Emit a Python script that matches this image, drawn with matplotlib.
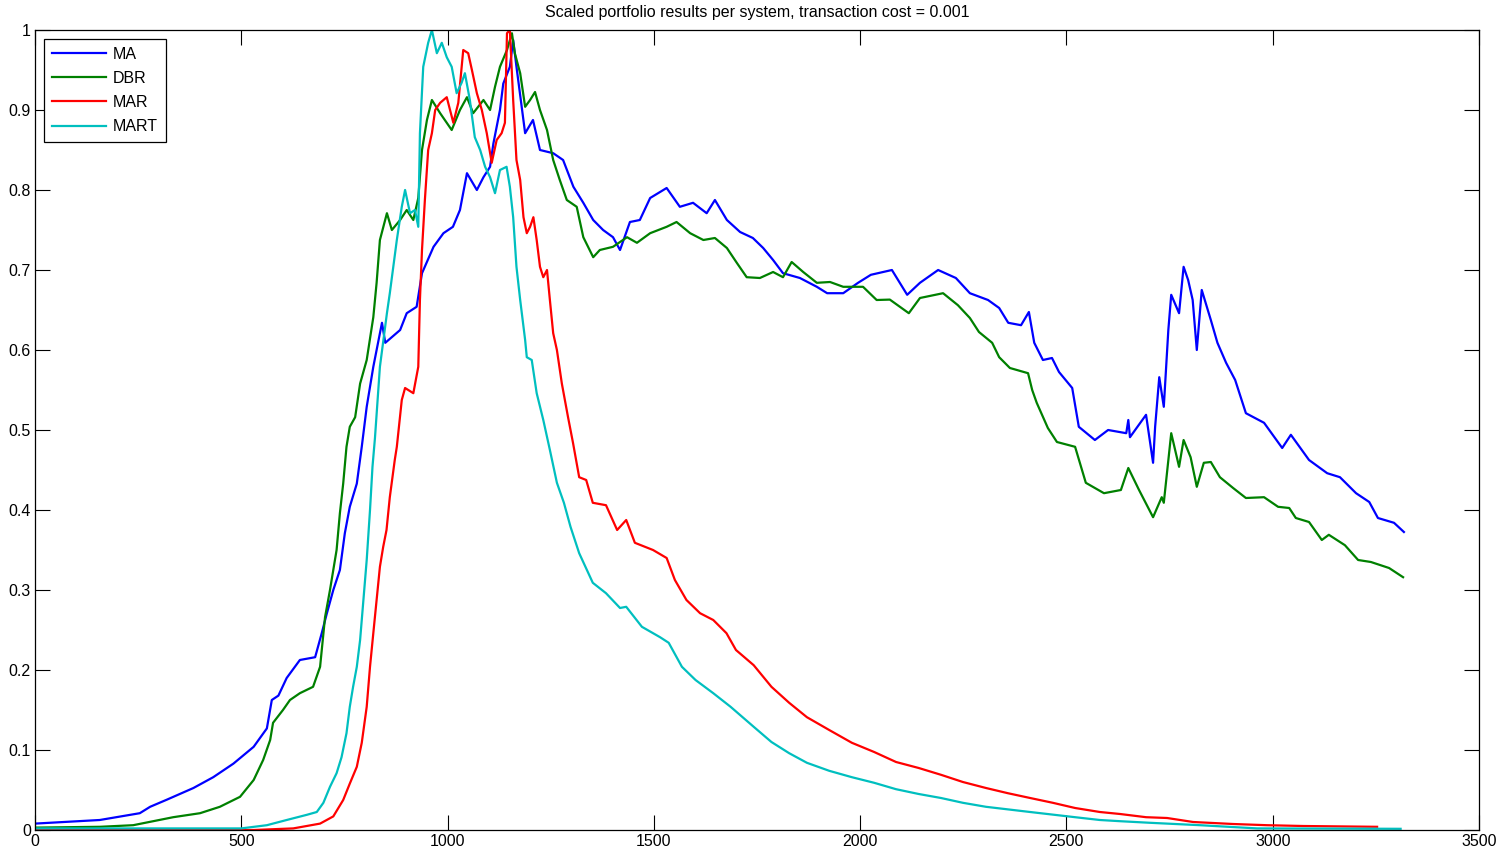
import matplotlib
matplotlib.use('Agg')
import matplotlib.pyplot as plt

plt.rcParams['font.family'] = ['Liberation Sans', 'DejaVu Sans']

# scaled portfolio value per system (x = trading day)
ma_x = [0, 157, 254, 279, 320, 384, 432, 481, 530, 562, 574, 590, 610, 642, 679, 695, 707, 723,
        739, 751, 763, 780, 792, 804, 820, 841, 849, 885, 901, 925, 938, 966, 990, 1013, 1030,
        1047, 1071, 1087, 1103, 1111, 1127, 1135, 1151, 1159, 1167, 1188, 1207, 1224, 1256,
        1280, 1305, 1329, 1353, 1377, 1401, 1418, 1442, 1466, 1491, 1531, 1563, 1595, 1628,
        1648, 1677, 1709, 1740, 1765, 1789, 1813, 1854, 1895, 1920, 1959, 1995, 2026, 2077,
        2114, 2145, 2189, 2232, 2266, 2310, 2337, 2359, 2390, 2409, 2422, 2443, 2465, 2482,
        2514, 2530, 2569, 2601, 2645, 2650, 2654, 2693, 2710, 2715, 2725, 2736, 2747, 2754,
        2773, 2784, 2795, 2806, 2816, 2828, 2850, 2866, 2887, 2909, 2935, 2979, 3023, 3044,
        3088, 3132, 3163, 3202, 3234, 3255, 3294, 3318]
ma_y = [0.008, 0.0125, 0.021, 0.029, 0.038, 0.0525, 0.066, 0.083, 0.104, 0.127, 0.1625, 0.168,
        0.19, 0.2125, 0.216, 0.246, 0.27, 0.30, 0.325, 0.371, 0.404, 0.433, 0.479, 0.529, 0.579,
        0.634, 0.609, 0.625, 0.646, 0.654, 0.696, 0.729, 0.746, 0.754, 0.775, 0.821, 0.80,
        0.816, 0.829, 0.858, 0.90, 0.933, 0.954, 0.9875, 0.954, 0.871, 0.8875, 0.85, 0.846,
        0.8375, 0.804, 0.784, 0.7625, 0.75, 0.741, 0.725, 0.76, 0.7625, 0.79, 0.8025, 0.779,
        0.784, 0.771, 0.7875, 0.7625, 0.7475, 0.74, 0.7275, 0.7125, 0.696, 0.69, 0.679, 0.671,
        0.671, 0.684, 0.694, 0.70, 0.669, 0.684, 0.70, 0.69, 0.671, 0.6625, 0.6525, 0.634,
        0.631, 0.6475, 0.609, 0.5875, 0.59, 0.5725, 0.5525, 0.504, 0.4875, 0.50, 0.496, 0.5125,
        0.491, 0.519, 0.459, 0.504, 0.566, 0.529, 0.625, 0.669, 0.646, 0.704, 0.6875, 0.6625,
        0.60, 0.675, 0.6375, 0.609, 0.584, 0.5625, 0.521, 0.509, 0.4775, 0.494, 0.4625, 0.446,
        0.441, 0.421, 0.41, 0.39, 0.384, 0.3725]

dbr_x = [0, 157, 238, 286, 335, 400, 448, 497, 530, 553, 570, 577, 601, 618, 642, 674, 691, 703,
         715, 731, 739, 747, 755, 763, 776, 788, 804, 820, 828, 836, 853, 865, 885, 901, 917,
         929, 938, 950, 962, 982, 998, 1010, 1030, 1047, 1062, 1087, 1103, 1115, 1127, 1144,
         1156, 1163, 1176, 1188, 1200, 1212, 1224, 1241, 1256, 1272, 1289, 1313, 1329, 1353,
         1369, 1401, 1435, 1459, 1491, 1531, 1555, 1588, 1620, 1648, 1677, 1701, 1725, 1757,
         1789, 1813, 1834, 1862, 1895, 1927, 1959, 2007, 2040, 2072, 2118, 2145, 2201, 2237,
         2266, 2288, 2320, 2337, 2363, 2407, 2417, 2428, 2455, 2477, 2521, 2547, 2591, 2632,
         2650, 2676, 2710, 2731, 2736, 2754, 2773, 2784, 2801, 2816, 2833, 2850, 2872, 2904,
         2935, 2979, 3013, 3040, 3056, 3088, 3119, 3136, 3175, 3207, 3238, 3282, 3316]
dbr_y = [0.003, 0.004, 0.006, 0.011, 0.016, 0.021, 0.029, 0.0415, 0.0625, 0.0875, 0.1125, 0.134,
         0.15, 0.1625, 0.171, 0.179, 0.204, 0.266, 0.30, 0.35, 0.396, 0.433, 0.479, 0.504, 0.516,
         0.558, 0.5875, 0.641, 0.684, 0.7375, 0.771, 0.75, 0.7625, 0.775, 0.7625, 0.79, 0.85,
         0.8875, 0.9125, 0.896, 0.884, 0.875, 0.90, 0.916, 0.896, 0.9125, 0.90, 0.929, 0.954,
         0.975, 0.996, 0.971, 0.946, 0.904, 0.9125, 0.9225, 0.90, 0.875, 0.8375, 0.8125, 0.7875,
         0.779, 0.741, 0.716, 0.725, 0.729, 0.741, 0.734, 0.746, 0.754, 0.76, 0.746, 0.7375,
         0.74, 0.7275, 0.709, 0.691, 0.69, 0.6975, 0.691, 0.71, 0.6975, 0.684, 0.685, 0.679,
         0.679, 0.6625, 0.663, 0.646, 0.665, 0.671, 0.656, 0.64, 0.6225, 0.609, 0.591, 0.5775,
         0.571, 0.55, 0.534, 0.5025, 0.485, 0.479, 0.434, 0.421, 0.425, 0.4525, 0.425, 0.391,
         0.416, 0.409, 0.496, 0.454, 0.4875, 0.466, 0.429, 0.459, 0.46, 0.441, 0.4275, 0.415,
         0.416, 0.404, 0.4025, 0.39, 0.385, 0.3625, 0.369, 0.356, 0.3375, 0.335, 0.3275, 0.316]

mar_x = [0, 530, 626, 691, 723, 747, 763, 780, 792, 804, 812, 820, 828, 836, 844, 852, 860, 872,
         877, 889, 897, 917, 929, 933, 938, 945, 953, 962, 970, 982, 998, 1014, 1026, 1038,
         1050, 1059, 1071, 1083, 1095, 1107, 1119, 1131, 1139, 1144, 1151, 1159, 1167, 1176,
         1184, 1192, 1200, 1208, 1216, 1224, 1232, 1241, 1248, 1256, 1265, 1277, 1292, 1304,
         1319, 1336, 1352, 1384, 1411, 1433, 1454, 1498, 1531, 1551, 1579, 1612, 1644, 1676,
         1699, 1742, 1785, 1828, 1871, 1925, 1980, 2034, 2087, 2142, 2196, 2249, 2305, 2358,
         2412, 2467, 2521, 2581, 2630, 2693, 2744, 2807, 2904, 2986, 3074, 3253]
mar_y = [0.0, 0.0, 0.002, 0.008, 0.017, 0.0375, 0.058, 0.079, 0.109, 0.154, 0.204, 0.246, 0.2875,
         0.329, 0.354, 0.375, 0.416, 0.4625, 0.479, 0.5375, 0.5525, 0.546, 0.579, 0.6625, 0.725,
         0.7875, 0.85, 0.871, 0.90, 0.909, 0.916, 0.884, 0.909, 0.975, 0.971, 0.95, 0.921, 0.90,
         0.871, 0.834, 0.8625, 0.871, 0.884, 0.996, 1.0, 0.9125, 0.8375, 0.8125, 0.766, 0.746,
         0.754, 0.766, 0.7375, 0.704, 0.691, 0.70, 0.6625, 0.621, 0.60, 0.558, 0.516, 0.484,
         0.441, 0.4375, 0.409, 0.406, 0.375, 0.3875, 0.359, 0.35, 0.34, 0.3125, 0.2875, 0.271,
         0.2625, 0.246, 0.225, 0.206, 0.179, 0.159, 0.141, 0.125, 0.109, 0.0975, 0.085, 0.0775,
         0.069, 0.06, 0.0525, 0.046, 0.04, 0.034, 0.0275, 0.0225, 0.02, 0.016, 0.015, 0.01,
         0.0075, 0.006, 0.005, 0.004]

mart_x = [0, 500, 562, 610, 659, 683, 699, 715, 731, 743, 755, 763, 771, 780, 788, 796, 804, 812,
          818, 824, 836, 853, 860, 877, 889, 897, 909, 921, 929, 933, 941, 953, 962, 974, 986,
          998, 1010, 1022, 1034, 1042, 1054, 1066, 1079, 1091, 1103, 1115, 1127, 1143, 1151,
          1159, 1167, 1176, 1188, 1192, 1204, 1216, 1232, 1248, 1265, 1282, 1298, 1319, 1352,
          1384, 1418, 1433, 1471, 1515, 1536, 1568, 1601, 1644, 1686, 1742, 1785, 1828, 1871,
          1925, 1980, 2034, 2087, 2142, 2196, 2249, 2305, 2412, 2521, 2581, 2630, 2703, 2824,
          2962, 3310]
mart_y = [0.002, 0.002, 0.006, 0.0125, 0.019, 0.0225, 0.034, 0.054, 0.071, 0.091, 0.121, 0.154,
          0.179, 0.204, 0.2375, 0.2875, 0.3375, 0.40, 0.454, 0.49, 0.579, 0.646, 0.671, 0.7375,
          0.779, 0.80, 0.771, 0.775, 0.754, 0.871, 0.954, 0.984, 1.0, 0.971, 0.984, 0.966, 0.954,
          0.921, 0.934, 0.946, 0.9125, 0.866, 0.85, 0.829, 0.816, 0.796, 0.825, 0.829, 0.804,
          0.766, 0.704, 0.6625, 0.6125, 0.591, 0.5875, 0.546, 0.5125, 0.475, 0.434, 0.409, 0.379,
          0.346, 0.309, 0.296, 0.2775, 0.279, 0.254, 0.241, 0.234, 0.204, 0.1875, 0.171, 0.154,
          0.129, 0.11, 0.096, 0.084, 0.074, 0.066, 0.059, 0.051, 0.045, 0.04, 0.034, 0.029,
          0.0225, 0.016, 0.0125, 0.011, 0.009, 0.006, 0.002, 0.0015]

series = [('MA', ma_x, ma_y, (0, 0, 1)),
          ('DBR', dbr_x, dbr_y, (0, 0.5, 0)),
          ('MAR', mar_x, mar_y, (1, 0, 0)),
          ('MART', mart_x, mart_y, (0, 0.75, 0.75))]

xticks = [0, 500, 1000, 1500, 2000, 2500, 3000, 3500]
yticks = [0, 0.1, 0.2, 0.3, 0.4, 0.5, 0.6, 0.7, 0.8, 0.9, 1]
ytick_labels = ['0', '0.1', '0.2', '0.3', '0.4', '0.5', '0.6', '0.7', '0.8', '0.9', '1']

fig = plt.figure(figsize=(14.97, 8.58), dpi=100)
ax = fig.add_axes([35 / 1497, 28 / 858, 1444 / 1497, 800 / 858])

for name, xs, ys, col in series:
    ax.plot(xs, ys, color=col, linewidth=1.6, label=name)

ax.set_xlim(0, 3500)
ax.set_ylim(0, 1)
ax.set_xticks(xticks)
ax.set_xticklabels([str(t) for t in xticks])
ax.set_yticks(yticks)
ax.set_yticklabels(ytick_labels)
ax.tick_params(direction='in', length=10.8, width=0.8, top=True, right=True,
               labelsize=11.5, colors='black', pad=3)
for sp in ax.spines.values():
    sp.set_linewidth(0.9)
    sp.set_color('black')

ax.set_title('Scaled portfolio results per system, transaction cost = 0.001',
             fontsize=11.5, pad=9)

leg = ax.legend(loc='upper left', bbox_to_anchor=(0.0062, 0.989), borderaxespad=0,
                fontsize=11.5, handlelength=3.4, handletextpad=0.4, labelspacing=0.57,
                borderpad=0.5, fancybox=False, framealpha=1, edgecolor='black')
leg.get_frame().set_linewidth(0.9)

fig.savefig('out.png', dpi=100)
